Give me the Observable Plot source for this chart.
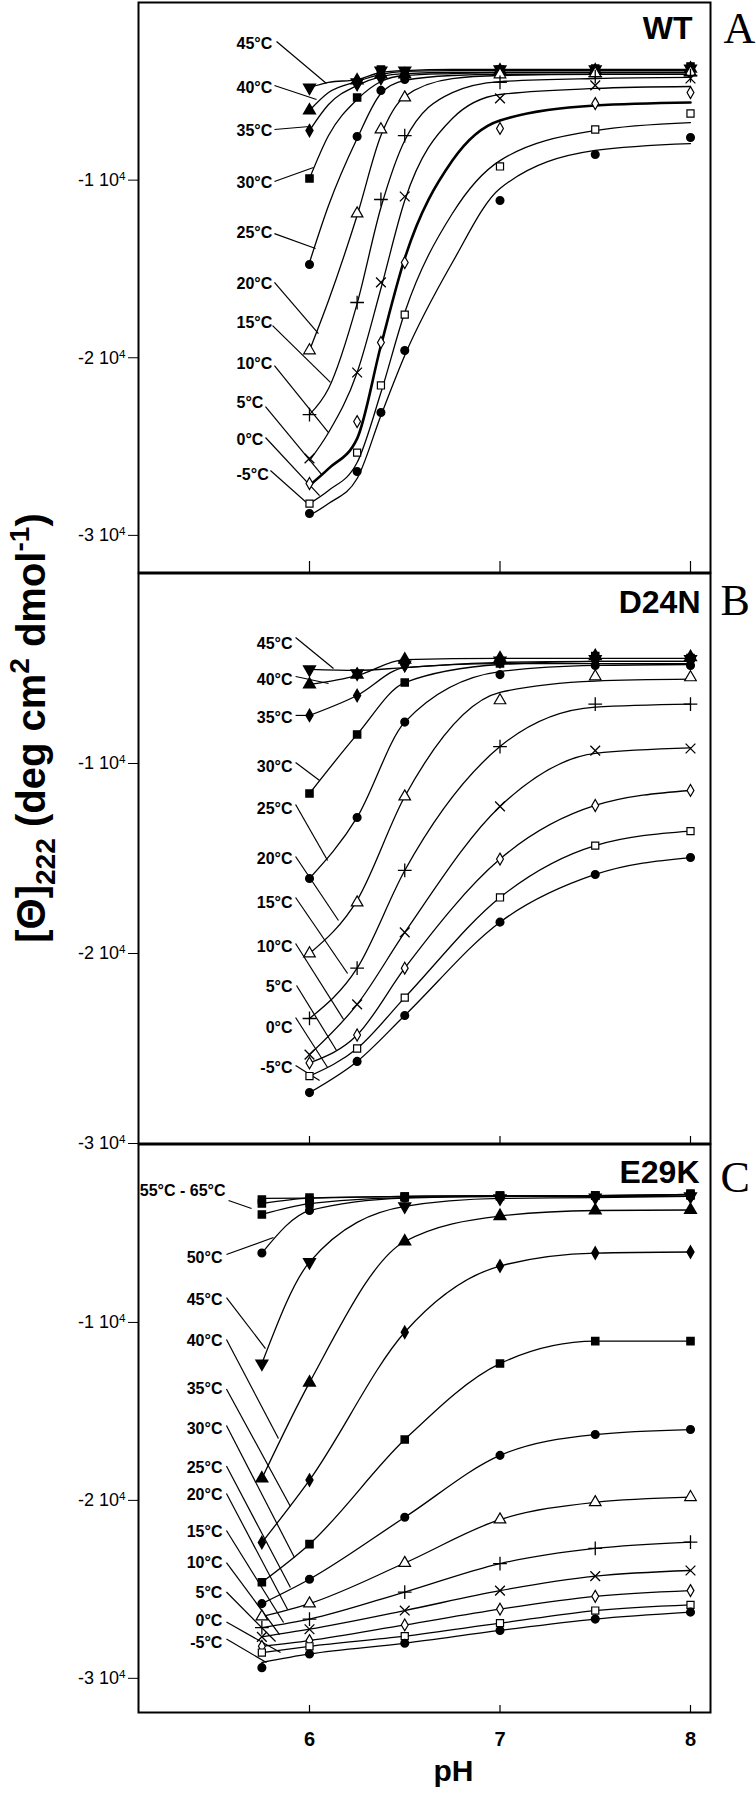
<!DOCTYPE html>
<html><head><meta charset="utf-8">
<script src="https://cdn.jsdelivr.net/npm/d3@7"></script>
<script src="https://cdn.jsdelivr.net/npm/@observablehq/plot@0.6"></script>
<style>
body{margin:0;background:#fff;}
#root{position:relative;width:756px;height:1800px;overflow:hidden;font-family:"Liberation Sans",Arial,sans-serif;}
#root svg{position:absolute;left:0;overflow:visible;background:transparent;}
</style></head><body><div id="root"></div>
<script>
// ---------- Panel A : WT ----------
const tempsA = ["45°C","40°C","35°C","30°C","25°C","20°C","15°C","10°C","5°C","0°C","-5°C"];
const symA   = ["tdown","tup","dia","sq","circ","otri","plus","times","odia","osq","circ"];
const markPH_A = [6, 6.25, 6.375, 6.5, 7, 7.5, 8];
const markA = [
  [-4790,-4500,-3830,-3830,-3770,-3770,-3720],
  [-6080,-4390,-4050,-4050,-3830,-3830,-3720],
  [-7210,-4620,-4280,-4170,-3880,-3880,-3830],
  [-9910,-5350,-3770,-3880,-3770,-3720,-3600],
  [-14750,-7540,-4950,-4330,-3940,-3940,-3940],
  [-19590,-11880,-7150,-5350,-4050,-3990,-3940],
  [-23200,-16890,-11090,-7490,-4500,-4170,-4110],
  [-25670,-20830,-15760,-10920,-5400,-4670,-4280],
  [-27080,-23590,-19140,-14640,-7090,-5690,-5070],
  [-28210,-25340,-21560,-17570,-9230,-7150,-6250],
  [-28770,-26400,-23080,-19590,-11150,-8560,-7600]
];
const fitPH_A = [6, 6.1, 6.25, 6.375, 6.5, 6.75, 7, 7.5, 8];
const fitA = [
  [-4790,-4500,-4340,-3940,-3830,-3770,-3770,-3770,-3770],
  [-6080,-5070,-4450,-4050,-3880,-3830,-3830,-3830,-3830],
  [-7210,-5740,-4670,-4170,-4000,-3940,-3940,-3940,-3940],
  [-9910,-7490,-5460,-4450,-4110,-4000,-3940,-3940,-3940],
  [-14640,-11430,-7660,-5120,-4390,-4110,-4050,-4050,-4050],
  [-19590,-16780,-11990,-7490,-5290,-4280,-4110,-4050,-4050],
  [-23200,-21730,-16950,-11540,-7770,-5070,-4450,-4280,-4220],
  [-25790,-24210,-20830,-16100,-11150,-6530,-5180,-4840,-4730],
  [-27190,-26240,-24550,-19310,-14410,-8900,-6640,-5800,-5630],
  [-28210,-27470,-25900,-21960,-17450,-11880,-8900,-7210,-6760],
  [-28880,-28210,-26800,-23250,-19870,-14640,-10470,-8330,-7940]
];
// label text, label x/y, leader start x/y, leader end x/y (pH, value)
const labelsA = [
  ["45°C",5.617,-2310,5.827,-2200,6.089,-4560],
  ["40°C",5.617,-4790,5.816,-4670,6.037,-5460],
  ["35°C",5.617,-7210,5.816,-7150,6.0,-6980],
  ["30°C",5.617,-10130,5.816,-10080,6.021,-9290],
  ["25°C",5.617,-12950,5.816,-13010,6.032,-13850],
  ["20°C",5.617,-15820,5.816,-15760,6.047,-18640],
  ["15°C",5.617,-18020,5.806,-18190,6.110,-21390],
  ["10°C",5.617,-20320,5.816,-20440,6.100,-24210],
  ["5°C",5.617,-22520,5.769,-22750,6.063,-26570],
  ["0°C",5.617,-24600,5.769,-24490,6.053,-27760],
  ["-5°C",5.617,-26570,5.795,-26350,5.984,-28150]
];

// ---------- Panel B : D24N ----------
const tempsB = ["45°C","40°C","35°C","30°C","25°C","20°C","15°C","10°C","5°C","0°C","-5°C"];
const symB   = ["tdown","tup","dia","sq","circ","otri","plus","times","odia","osq","circ"];
const markPH_B = [6, 6.25, 6.5, 7, 7.5, 8];
const markB = [
  [-5050,-5260,-4790,-4580,-4500,-4500],
  [-5840,-5320,-4530,-4470,-4350,-4400],
  [-7470,-6420,-4840,-4630,-4630,-4630],
  [-11580,-8470,-5740,-4740,-4350,-4450],
  [-16050,-12840,-7820,-5320,-4840,-4840],
  [-20000,-17320,-11740,-6680,-5420,-5470],
  [-23420,-20770,-15630,-9110,-6870,-6870],
  [-25320,-22680,-18890,-12260,-9320,-9210],
  [-25760,-24290,-20770,-15030,-12210,-11420],
  [-26450,-25000,-22320,-17050,-14320,-13560],
  [-27320,-25680,-23260,-18350,-15840,-14950]
];
const fitPH_B = [6, 6.25, 6.5, 7, 7.5, 8];
const fitB = [
  [-5050,-5100,-4950,-4680,-4630,-4630],
  [-5840,-5370,-4530,-4470,-4470,-4470],
  [-7470,-6420,-4950,-4740,-4740,-4740],
  [-11580,-8470,-5740,-4790,-4630,-4630],
  [-16050,-12840,-7820,-5160,-4840,-4790],
  [-20000,-17200,-11740,-6260,-5660,-5560],
  [-23420,-20770,-15630,-9110,-7030,-6870],
  [-25320,-22680,-18890,-12260,-9470,-9180],
  [-25760,-24290,-20770,-15030,-12210,-11420],
  [-26450,-25000,-22320,-17050,-14320,-13560],
  [-27320,-25680,-23260,-18350,-15840,-14950]
];
const labelsB = [
  ["45°C",5.911,-3705,5.927,-3370,6.126,-5000],
  ["40°C",5.911,-5600,5.927,-5420,6.100,-5790],
  ["35°C",5.911,-7616,5.927,-7470,6.0,-7470],
  ["30°C",5.911,-10194,5.927,-9950,6.053,-10894],
  ["25°C",5.911,-12368,5.927,-12160,6.095,-15105],
  ["20°C",5.911,-15026,5.927,-14894,6.152,-18263],
  ["15°C",5.911,-17342,5.927,-17052,6.200,-21052],
  ["10°C",5.911,-19658,5.927,-19473,6.179,-23473],
  ["5°C",5.911,-21774,5.932,-21684,6.142,-25105],
  ["0°C",5.911,-23894,5.927,-23368,6.095,-25999],
  ["-5°C",5.911,-25999,5.927,-25894,6.053,-26683]
];

// ---------- Panel C : E29K ----------
const tempsC = ["65°C","60°C","55°C","50°C","45°C","40°C","35°C","30°C","25°C","20°C","15°C","10°C","5°C","0°C","-5°C"];
const symC   = ["sq","sq","sq","circ","tdown","tup","dia","sq","circ","otri","plus","times","odia","osq","circ"];
const markPH_C = [5.75, 6, 6.5, 7, 7.5, 8];
const markC = [
  [-3090,-2980,-2920,-2870,-2870,-2750],
  [-3320,-3150,-2920,-2870,-2870,-2810],
  [-3930,-3320,-2980,-2920,-2870,-2870],
  [-6100,-3710,-3010,-2920,-2920,-2920],
  [-12310,-6610,-3480,-3030,-2980,-2920],
  [-18770,-13380,-5450,-4020,-3710,-3680],
  [-22370,-18860,-10550,-6830,-6100,-6040],
  [-24600,-22460,-16580,-12310,-11050,-11050],
  [-25800,-24430,-20950,-17470,-16300,-16020],
  [-26530,-25800,-23520,-21080,-20110,-19820],
  [-27150,-26670,-25150,-23550,-22700,-22340],
  [-27670,-27240,-26190,-25070,-24260,-23940],
  [-28200,-27880,-27000,-26110,-25390,-25070],
  [-28550,-28200,-27630,-26900,-26190,-25870],
  [-29400,-28630,-28030,-27310,-26670,-26280]
];
const fitPH_C = [5.75, 6, 6.5, 7, 7.5, 8];
const fitC = [
  [-3030,-3010,-2920,-2870,-2870,-2810],
  [-3320,-3010,-2920,-2870,-2870,-2810],
  [-3930,-3320,-2980,-2920,-2870,-2810],
  [-6100,-3710,-3010,-2920,-2920,-2920],
  [-12310,-6610,-3480,-3030,-2980,-2920],
  [-18770,-13380,-5450,-4020,-3710,-3680],
  [-22370,-18860,-10550,-6830,-6100,-6040],
  [-24600,-22460,-16580,-12310,-11050,-11050],
  [-25800,-24430,-20950,-17470,-16300,-16020],
  [-26530,-25800,-23520,-21080,-20110,-19820],
  [-27150,-26670,-25150,-23550,-22700,-22340],
  [-27670,-27240,-26190,-25070,-24260,-23940],
  [-28200,-27880,-27000,-26110,-25390,-25070],
  [-28550,-28200,-27630,-26900,-26190,-25870],
  [-29110,-28630,-28030,-27310,-26670,-26280]
];
const labelsC = [
  ["55°C - 65°C",5.559,-2585,5.575,-3147,5.696,-3597],
  ["50°C",5.543,-6351,5.564,-6182,5.811,-5227],
  ["45°C",5.543,-8750,5.564,-8599,5.769,-11465],
  ["40°C",5.543,-11055,5.564,-10959,5.837,-16523],
  ["35°C",5.543,-13741,5.564,-13741,5.900,-20344],
  ["30°C",5.543,-15961,5.564,-15792,5.921,-23211],
  ["25°C",5.543,-18186,5.564,-18068,5.900,-24897],
  ["20°C",5.543,-19698,5.564,-19614,5.885,-26133],
  ["15°C",5.543,-21749,5.564,-21693,5.864,-26864],
  ["10°C",5.543,-23520,5.564,-23492,5.843,-27538],
  ["5°C",5.543,-25200,5.564,-25150,5.822,-27931],
  ["0°C",5.543,-26785,5.564,-26836,5.848,-28550],
  ["-5°C",5.543,-27988,5.564,-27791,5.774,-29112]
];

const yTicks = [-10000, -20000, -30000];
const xTicks = [6, 7, 8];

// ---------- styles ----------
const SYM = {
  tdown: {symbol: "triangle", rotate: 180, fill: "black", stroke: "black", r: 4.3},
  tup:   {symbol: "triangle", fill: "black", stroke: "black", r: 4.3},
  dia:   {symbol: "diamond", fill: "black", stroke: "black", r: 3.6},
  sq:    {symbol: "square", fill: "black", stroke: "black", r: 4},
  circ:  {symbol: "circle", fill: "black", stroke: "black", r: 3.8},
  otri:  {symbol: "triangle", fill: "white", stroke: "black", strokeWidth: 1.2, r: 4.3},
  plus:  {symbol: "plus", stroke: "black", strokeWidth: 1.3, r: 4.5},
  times: {symbol: "times", stroke: "black", strokeWidth: 1.3, r: 4.5},
  odia:  {symbol: "diamond", fill: "white", stroke: "black", strokeWidth: 1.2, r: 3.6},
  osq:   {symbol: "square", fill: "white", stroke: "black", strokeWidth: 1.2, r: 4}
};

const root = document.getElementById("root");

function panel(o) {
  const plotH = o.height - o.mt - o.mb;
  const ms = [];
  o.fits.forEach((vals, i) => {
    const data = o.fitPH.map((p, j) => ({p, v: vals[j]})).filter(d => d.v != null);
    ms.push(Plot.line(data, {x: "p", y: "v", curve: "monotone-x", stroke: "black",
      strokeWidth: i === o.thick ? 2.6 : 1.3}));
  });
  ms.push(Plot.link(o.labels, {x1: d => d[3], y1: d => d[4], x2: d => d[5], y2: d => d[6],
    stroke: "black", strokeWidth: 1.2}));
  o.marks.forEach((vals, i) => {
    const data = o.markPH.map((p, j) => ({p, v: vals[j], t: o.temps[i]})).filter(d => d.v != null);
    ms.push(Plot.dot(data, {x: "p", y: "v", ...SYM[o.syms[i]]}));
  });
  ms.push(Plot.text(o.labels, {x: d => d[1], y: d => d[2], text: d => d[0],
    textAnchor: o.anchor, fontSize: 16, fontWeight: "bold", fill: "black"}));
  ms.push(Plot.frame({stroke: "black", strokeWidth: 2}));
  ms.push(Plot.axisY({ticks: yTicks, tickSize: 10, tickPadding: 3,
    tickFormat: d => `${d / 1e4} 10`, fontSize: 18, label: null}));
  ms.push(Plot.tickX(xTicks, {x: d => d, insetTop: plotH - o.tickLen, stroke: "black", strokeWidth: 1.2}));
  ms.push(Plot.text([o.name], {frameAnchor: "top-right", dx: o.nameDx, dy: o.nameDy,
    textAnchor: "end", lineAnchor: "bottom", fontSize: 32, fontWeight: "bold"}));
  ms.push(Plot.text([o.letter], {frameAnchor: "top-right", dx: o.letterDx, dy: o.letterDy,
    textAnchor: "start", lineAnchor: "bottom", fontSize: 44, fontFamily: "Liberation Serif"}));
  if (o.xLabels) {
    ms.push(Plot.axisX({ticks: xTicks, tickSize: 0, tickPadding: 19, fontSize: 20,
      fontWeight: "bold", tickFormat: d => String(d), label: null}));
    ms.push(Plot.text(["pH"], {frameAnchor: "bottom", dx: 29, dy: 68, fontSize: 30, fontWeight: "bold"}));
  }
  const svg = Plot.plot({
    width: 756, height: o.height,
    marginLeft: 138, marginRight: 46, marginTop: o.mt, marginBottom: o.mb,
    x: {domain: [5.1024, 8.105], axis: o.xLabels ? undefined : null},
    y: {domain: [o.ymin, 0]},
    style: {fontFamily: "Liberation Sans, Arial, sans-serif", fontSize: "16px",
      background: "transparent", overflow: "visible", color: "black"},
    marks: ms
  });
  svg.style.top = o.top + "px";
  d3.select(svg).selectAll('g[aria-label="y-axis tick label"] text').each(function() {
    d3.select(this).append("tspan").attr("dy", "-0.5em").attr("font-size", "0.65em").text("4");
  });
  root.appendChild(svg);
}

panel({top: 0, height: 572, mt: 2, mb: 0, ymin: -32090,
  temps: tempsA, syms: symA, markPH: markPH_A, marks: markA, fitPH: fitPH_A, fits: fitA, thick: 8,
  labels: labelsA, anchor: "start", name: "WT", nameDx: -18, nameDy: 36, letter: "A", letterDx: 13, letterDy: 40,
  tickLen: 11, xLabels: false});
panel({top: 572, height: 572, mt: 1, mb: 1, ymin: -30000,
  temps: tempsB, syms: symB, markPH: markPH_B, marks: markB, fitPH: fitPH_B, fits: fitB, thick: -1,
  labels: labelsB, anchor: "end", name: "D24N", nameDx: -10, nameDy: 39, letter: "B", letterDx: 10, letterDy: 41,
  tickLen: 7, xLabels: false});
panel({top: 1143, height: 657, mt: 1, mb: 88, ymin: -31920,
  temps: tempsC, syms: symC, markPH: markPH_C, marks: markC, fitPH: fitPH_C, fits: fitC, thick: -1,
  labels: labelsC, anchor: "end", name: "E29K", nameDx: -11, nameDy: 38, letter: "C", letterDx: 10, letterDy: 47,
  tickLen: 7, xLabels: true});

// y-axis title spanning the three panels
const ts = d3.create("svg").attr("width", 80).attr("height", 1800).style("top", "0px");
const tx = ts.append("text").attr("transform", "translate(45,728) rotate(-90)")
  .attr("text-anchor", "middle").attr("font-family", "Liberation Sans, Arial, sans-serif")
  .attr("font-weight", "bold").attr("font-size", 40).attr("fill", "black");
tx.append("tspan").text("[Θ]");
tx.append("tspan").attr("font-size", 28).attr("dy", 10).text("222");
tx.append("tspan").attr("dy", -10).text(" (deg cm");
tx.append("tspan").attr("font-size", 28).attr("dy", -16).text("2");
tx.append("tspan").attr("dy", 16).text(" dmol");
tx.append("tspan").attr("font-size", 28).attr("dy", -16).text("-1");
tx.append("tspan").attr("dy", 16).text(")");
root.appendChild(ts.node());
</script></body></html>
